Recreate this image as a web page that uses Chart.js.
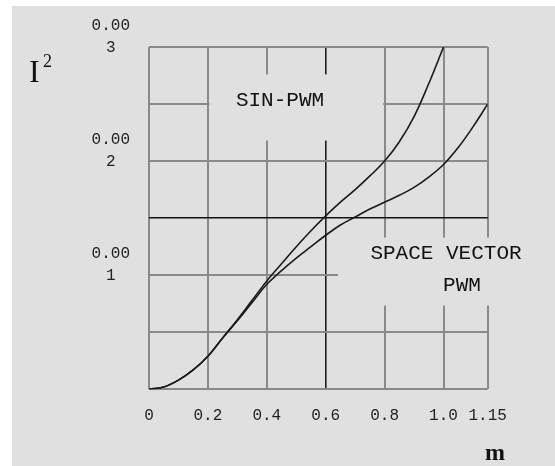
<!DOCTYPE html>
<html>
<head>
<meta charset="utf-8">
<script src="https://cdn.jsdelivr.net/npm/chart.js@4"></script>
<style>
  body { margin: 0; background: #ffffff; }
  #wrap { position: absolute; left: 12px; top: 6px; width: 543px; height: 460px; background: #e0e0e0; }
  canvas { display: block; }
</style>
</head>
<body>
<div id="wrap"><canvas id="myChart" width="543" height="460"></canvas></div>
<script>
// modulation index m
const mValues = [0, 0.05, 0.1, 0.15, 0.2, 0.25, 0.3, 0.35, 0.4, 0.45, 0.5, 0.55,
                 0.6, 0.65, 0.7, 0.75, 0.8, 0.85, 0.9, 0.95, 1.0, 1.05, 1.1, 1.15];

// I^2
const sinPwm = [0, 0.00002, 0.00008, 0.00017, 0.00029, 0.00045, 0.00061, 0.00078,
                0.00095, 0.0011, 0.00125, 0.00139, 0.00152, 0.00164, 0.00175, 0.00187,
                0.002, 0.00217, 0.00239, 0.00268, 0.003];
const spaceVectorPwm = [0, 0.00002, 0.00008, 0.00017, 0.00029, 0.00045, 0.0006, 0.00076,
                        0.00092, 0.00104, 0.00115, 0.00125, 0.00135, 0.00144, 0.00151, 0.00158,
                        0.00164, 0.0017, 0.00177, 0.00186, 0.00197, 0.00212, 0.0023, 0.0025];

const xTicks = [0, 0.2, 0.4, 0.6, 0.8, 1.0, 1.15];
const xTickLabels = ['0', '0.2', '0.4', '0.6', '0.8', '1.0', '1.15'];
const yTicks = [0, 0.0005, 0.001, 0.0015, 0.002, 0.0025, 0.003];
const yTickLabels = ['', '', ['0.00', '1'], '', ['0.00', '2'], '', ['0.00', '3']];

const bg = '#e0e0e0';

function toPoints(ys) {
    return ys.map((y, i) => ({ x: mValues[i], y: y }));
}

const labelsPlugin = {
    id: 'labels',
    beforeDatasetsDraw(chart) {
        const ctx = chart.ctx;
        const x = chart.scales.x;
        const y = chart.scales.y;
        ctx.save();
        ctx.fillStyle = bg;
        // boxes behind the curve labels
        let x0 = x.getPixelForValue(0.2) + 1.5;
        let x1 = x.getPixelForValue(0.8) - 1.5;
        let y0 = y.getPixelForValue(0.00276);
        let y1 = y.getPixelForValue(0.00218);
        ctx.fillRect(x0, y0, x1 - x0, y1 - y0);
        x0 = x.getPixelForValue(0.642);
        y0 = y.getPixelForValue(0.00133);
        y1 = y.getPixelForValue(0.000734);
        ctx.fillRect(x0, y0, chart.width - x0, y1 - y0);

        ctx.fillStyle = '#111';
        ctx.textAlign = 'center';
        ctx.textBaseline = 'middle';
        ctx.font = '21px "Liberation Mono"';
        ctx.fillText('SIN-PWM', 268, 94);
        ctx.fillText('SPACE VECTOR', 434, 247);
        ctx.fillText('PWM', 450, 279);

        ctx.textBaseline = 'alphabetic';
        ctx.textAlign = 'left';
        ctx.font = '32px "Liberation Serif"';
        ctx.fillText('I', 17, 76);
        ctx.font = '18px "Liberation Serif"';
        ctx.fillText('2', 31, 61);
        ctx.textAlign = 'center';
        ctx.font = 'bold 24px "Liberation Serif"';
        ctx.fillText('m', 483, 454);
        ctx.restore();
    }
};

Chart.defaults.font.family = '"Liberation Mono", monospace';
Chart.defaults.font.size = 16;
Chart.defaults.color = '#222';

var ctx = document.getElementById('myChart').getContext('2d');
var chart = new Chart(ctx, {
    type: 'line',
    data: {
        datasets: [{
            label: 'SIN-PWM',
            data: toPoints(sinPwm),
            borderColor: '#1a1a1a',
            borderWidth: 1.6,
            pointRadius: 0,
            tension: 0.4
        }, {
            label: 'SPACE VECTOR PWM',
            data: toPoints(spaceVectorPwm),
            borderColor: '#1a1a1a',
            borderWidth: 1.6,
            pointRadius: 0,
            tension: 0.4
        }]
    },
    options: {
        responsive: false,
        animation: false,
        layout: { padding: { top: 30.7, right: 67.3, bottom: 0, left: 0 } },
        plugins: { legend: { display: false }, tooltip: { enabled: false } },
        scales: {
            x: {
                type: 'linear',
                min: 0,
                max: 1.15,
                afterBuildTicks: scale => { scale.ticks = xTicks.map(v => ({ value: v })); },
                afterFit: scale => { scale.height = 76.7; },
                ticks: {
                    padding: 17,
                    maxRotation: 0,
                    autoSkip: false,
                    callback: (value, index) => xTickLabels[index]
                },
                grid: {
                    drawTicks: false,
                    color: c => (c.tick && c.tick.value === 0.6) ? '#1e1e1e' : '#8a8a8a',
                    lineWidth: c => (c.tick && c.tick.value === 0.6) ? 1.6 : 2
                },
                border: { display: false }
            },
            y: {
                min: 0,
                max: 0.003,
                afterBuildTicks: scale => { scale.ticks = yTicks.map(v => ({ value: v })); },
                afterFit: scale => { scale.width = 137; },
                ticks: {
                    padding: 19,
                    crossAlign: 'center',
                    autoSkip: false,
                    labelOffset: -10,
                    font: { lineHeight: 1.375 },
                    callback: (value, index) => yTickLabels[index]
                },
                grid: {
                    drawTicks: false,
                    color: c => (c.tick && c.tick.value === 0.0015) ? '#111' : '#8a8a8a',
                    lineWidth: c => (c.tick && c.tick.value === 0.0015) ? 1.6 : 2
                },
                border: { display: false }
            }
        }
    },
    plugins: [labelsPlugin]
});
</script>
</body>
</html>
